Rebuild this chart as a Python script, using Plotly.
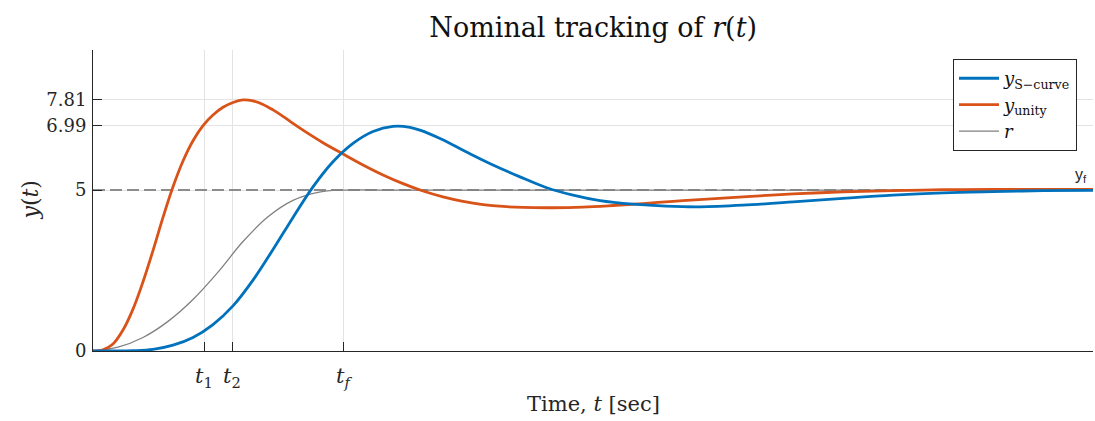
import plotly.graph_objects as go

# ---- data ----
t_unity = [0, 0.1, 0.2, 0.3, 0.4, 0.5, 0.6, 0.7, 0.8, 0.9, 1.0, 1.1, 1.2, 1.3, 1.4, 1.5,
           1.6, 1.7, 1.8, 1.9, 2.0, 2.1, 2.3, 2.5, 2.7, 2.9, 3.1, 3.3, 3.5, 3.7, 3.9, 4.1,
           4.3, 4.6, 4.9, 5.2, 5.5, 5.8, 6.1, 6.5, 7.0, 7.5, 8.0, 8.5, 9.0, 10.0]
y_unity = [0, 0.04, 0.22, 0.65, 1.30, 2.15, 3.12, 4.15, 5.10, 5.90, 6.53, 7.00, 7.33, 7.57,
           7.72, 7.80, 7.77, 7.66, 7.49, 7.29, 7.07, 6.86, 6.47, 6.12, 5.78, 5.47, 5.20, 4.97,
           4.79, 4.65, 4.55, 4.49, 4.46, 4.45, 4.47, 4.52, 4.58, 4.65, 4.71, 4.79, 4.88, 4.94,
           4.98, 5.01, 5.02, 5.02]

t_scurve = [0, 0.2, 0.4, 0.6, 0.8, 1.0, 1.2, 1.4, 1.6, 1.8, 2.0, 2.2, 2.4, 2.6, 2.8, 3.0,
            3.17, 3.27, 3.47, 3.73, 4.0, 4.27, 4.53, 4.8, 5.07, 5.4, 5.73, 6.07, 6.5, 7.0, 7.5,
            8.0, 8.5, 9.0, 9.5, 10.0]
y_scurve = [0, 0.00, 0.01, 0.05, 0.18, 0.42, 0.82, 1.40, 2.20, 3.15, 4.15, 5.10, 5.88, 6.45,
            6.82, 6.98, 6.95, 6.86, 6.60, 6.19, 5.78, 5.41, 5.08, 4.84, 4.67, 4.56, 4.50, 4.48,
            4.53, 4.63, 4.74, 4.84, 4.91, 4.95, 4.98, 4.99]

t_ref = [0, 0.25, 0.5, 0.75, 1.0, 1.25, 1.5, 1.75, 2.0, 2.25, 2.5, 3.0, 10.0]
y_ref = [0, 0.12, 0.42, 0.92, 1.60, 2.45, 3.40, 4.17, 4.68, 4.93, 5.00, 5.00, 5.00]

y_final = 5
x_ticks = [1.11, 1.39, 2.5]
x_tick_labels = ["<i>t</i><sub>1</sub>", "<i>t</i><sub>2</sub>", "<i>t</i><sub><i>f</i></sub>"]
y_ticks = [0, 5, 6.99, 7.81]
y_tick_labels = ["0", "5", "6.99", "7.81"]
t_end = 10.0

SERIF = "DejaVu Serif"
BLUE = "#0072BD"
ORANGE = "#D95319"
GREY = "#808080"

fig = go.Figure()

# dashed final-value line
fig.add_trace(go.Scatter(x=[0, t_end], y=[y_final, y_final], mode="lines",
                         line=dict(color="#8c8c8c", width=2, dash="12px,5px"),
                         showlegend=False, hoverinfo="skip"))

fig.add_trace(go.Scatter(x=t_ref, y=y_ref, mode="lines", name="<i>r</i>",
                         line=dict(color=GREY, width=1.3, shape="spline", smoothing=1.0)))
fig.add_trace(go.Scatter(x=t_unity, y=y_unity, mode="lines", name="<i>y</i><sub>unity</sub>",
                         line=dict(color=ORANGE, width=2.8, shape="spline", smoothing=1.0)))
fig.add_trace(go.Scatter(x=t_scurve, y=y_scurve, mode="lines", name="<i>y</i><sub>S−curve</sub>",
                         line=dict(color=BLUE, width=2.8, shape="spline", smoothing=1.0)))

fig.update_layout(
    width=1095, height=421,
    margin=dict(l=93, r=2, t=50, b=70),
    paper_bgcolor="white", plot_bgcolor="white",
    font=dict(family=SERIF, size=17, color="#262626"),
    title=dict(text="Nominal tracking of <i>r</i>(<i>t</i>)", x=0.5417, xanchor="center",
               y=0.935, yanchor="middle", font=dict(family=SERIF, size=27, color="#111111")),
    legend=dict(x=0.984, xanchor="right", y=0.97, yanchor="top",
                bgcolor="white", bordercolor="#262626", borderwidth=1,
                font=dict(family=SERIF, size=18, color="#111111"),
                traceorder="reversed", tracegroupgap=0, itemwidth=40),
    showlegend=True,
)

fig.update_xaxes(range=[0, t_end], tickmode="array", tickvals=x_ticks, ticktext=x_tick_labels,
                 ticks="inside", ticklen=9, tickcolor="#262626", tickwidth=1,
                 ticklabelstandoff=6,
                 showgrid=True, gridcolor="#e3e3e3", gridwidth=1, zeroline=False,
                 showline=True, linecolor="#262626", linewidth=1,
                 tickfont=dict(family=SERIF, size=21, color="#262626"))
fig.update_yaxes(range=[0, 9.35], tickmode="array", tickvals=y_ticks, ticktext=y_tick_labels,
                 ticks="inside", ticklen=9, tickcolor="#262626", tickwidth=1,
                 ticklabelstandoff=2,
                 showgrid=True, gridcolor="#e3e3e3", gridwidth=1, zeroline=False,
                 showline=True, linecolor="#262626", linewidth=1,
                 tickfont=dict(family=SERIF, size=18, color="#262626"))

fig.add_annotation(text="Time, <i>t</i> [sec]", xref="paper", yref="paper", x=0.5, y=-0.175,
                   xanchor="center", yanchor="middle", showarrow=False,
                   font=dict(family=SERIF, size=21, color="#262626"))
fig.add_annotation(text="<i>y</i>(<i>t</i>)", xref="paper", yref="paper", x=-0.063, y=0.5,
                   xanchor="center", yanchor="middle", showarrow=False, textangle=-90,
                   font=dict(family=SERIF, size=22, color="#262626"))
fig.add_annotation(text="y<sub>f</sub>", x=t_end, y=y_final, xref="x", yref="y",
                   xanchor="right", yanchor="bottom", showarrow=False, xshift=-4, yshift=3,
                   font=dict(family="Liberation Sans", size=16, color="#262626"))

fig.write_html("out.html")
